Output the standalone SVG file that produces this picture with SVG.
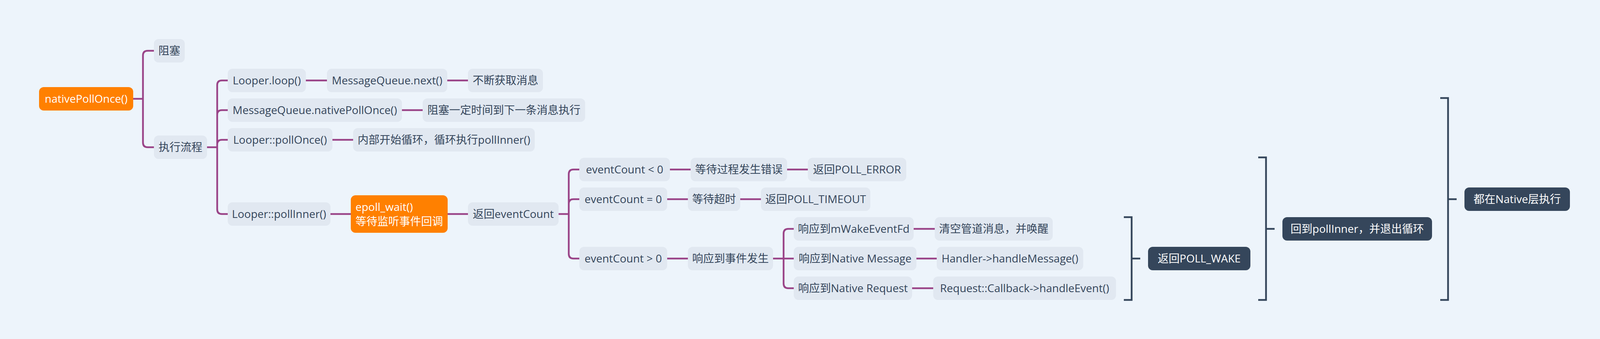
<svg xmlns="http://www.w3.org/2000/svg" width="4120" height="868" viewBox="0 0 4120 868">
<style>
.bg{fill:#edf4fb}
.n rect{fill:#e1e8f1}
.n text{fill:#34455a}
.o rect{fill:#ff8000}
.o text{fill:#ffffff}
.d rect{fill:#35465b}
.d text{fill:#ffffff}
text{font-family:"Open Sans","Noto Sans CJK SC",sans-serif;font-size:28px;text-anchor:middle}
.l{fill:none;stroke:#9a4488;stroke-width:4.5;stroke-linecap:butt}
.b{fill:none;stroke:#35465b;stroke-width:4.5}
</style>
<rect class="bg" x="0" y="0" width="4120" height="868"/>
<g id="connectors">
<path class="l" d="M341,253 L366,253 M366,253 L366,142 Q366,130 378,130 L394,130 M366,253 L366,365 Q366,377 378,377 L394,377"/>
<path class="l" d="M530,377 L556,377 M556,377 L556,218 Q556,206 568,206 L583,206 M556,377 L556,294 Q556,282 568,282 L583,282 M556,377 L556,370 Q556,358 568,358 L583,358 M556,377 L556,536 Q556,548 568,548 L583,548"/>
<path class="l" d="M783,206 L837,206 M1145,206 L1198,206 M1029,282 L1082,282 M851,358 L904,358 M846,548 L898,548 M1146,548 L1198,548"/>
<path class="l" d="M1430,548 L1456,548 M1456,548 L1456,446 Q1456,434 1468,434 L1483,434 M1456,548 L1456,522 Q1456,510 1468,510 L1483,510 M1456,548 L1456,650 Q1456,662 1468,662 L1483,662"/>
<path class="l" d="M1715,434 L1768,434 M2015,434 L2068,434 M1708,510 L1761,510 M1895,510 L1948,510 M1708,662 L1761,662"/>
<path class="l" d="M1979,662 L2032,662 M2006,662 L2006,598 Q2006,586 2018,586 L2032,586 M2006,662 L2006,726 Q2006,738 2018,738 L2032,738"/>
<path class="l" d="M2339,586 L2393,586 M2346,662 L2398,662 M2335,738 L2389,738"/>
<path class="b" d="M2877,556 L2897,556 L2897,768 L2877,768 M2897,662 L2919,662"/>
<path class="b" d="M3221,403 L3241,403 L3241,768 L3221,768 M3241,586 L3263,586"/>
<path class="b" d="M3687,251 L3707,251 L3707,768 L3687,768 M3707,510 L3729,510"/>
</g>
<g id="n1" class="o"><rect x="100" y="223" width="241" height="60" rx="12"/><text x="220.5" y="263">nativePollOnce()</text></g>
<g id="n2" class="n"><rect x="394" y="100" width="79" height="60" rx="12"/><text x="433.5" y="140">阻塞</text></g>
<g id="n3" class="n"><rect x="394" y="347" width="136" height="60" rx="12"/><text x="462" y="387">执行流程</text></g>
<g id="n4" class="n"><rect x="583" y="176" width="200" height="60" rx="12"/><text x="683" y="216">Looper.loop()</text></g>
<g id="n5" class="n"><rect x="837" y="176" width="308" height="60" rx="12"/><text x="991" y="216">MessageQueue.next()</text></g>
<g id="n6" class="n"><rect x="1198" y="176" width="192" height="60" rx="12"/><text x="1294" y="216">不断获取消息</text></g>
<g id="n7" class="n"><rect x="583" y="252" width="446" height="60" rx="12"/><text x="806" y="292">MessageQueue.nativePollOnce()</text></g>
<g id="n8" class="n"><rect x="1082" y="252" width="416" height="60" rx="12"/><text x="1290" y="292">阻塞一定时间到下一条消息执行</text></g>
<g id="n9" class="n"><rect x="583" y="328" width="268" height="60" rx="12"/><text x="717" y="368">Looper::pollOnce()</text></g>
<g id="n10" class="n"><rect x="904" y="328" width="465" height="60" rx="12"/><text x="1136.5" y="368">内部开始循环，循环执行pollInner()</text></g>
<g id="n11" class="n"><rect x="583" y="518" width="263" height="60" rx="12"/><text x="714.5" y="558">Looper::pollInner()</text></g>
<g id="n12" class="o"><rect x="898" y="500" width="248" height="96" rx="12"/><text x="910" y="540" style="text-anchor:start">epoll_wait()</text><text x="910" y="577" style="text-anchor:start">等待监听事件回调</text></g>
<g id="n13" class="n"><rect x="1198" y="518" width="232" height="60" rx="12"/><text x="1314" y="558">返回eventCount</text></g>
<g id="n14" class="n"><rect x="1483" y="404" width="232" height="60" rx="12"/><text x="1599" y="444">eventCount &lt; 0</text></g>
<g id="n15" class="n"><rect x="1768" y="404" width="247" height="60" rx="12"/><text x="1891.5" y="444">等待过程发生错误</text></g>
<g id="n16" class="n"><rect x="2068" y="404" width="252" height="60" rx="12"/><text x="2194" y="444">返回POLL_ERROR</text></g>
<g id="n17" class="n"><rect x="1483" y="480" width="225" height="60" rx="12"/><text x="1595.5" y="520">eventCount = 0</text></g>
<g id="n18" class="n"><rect x="1761" y="480" width="134" height="60" rx="12"/><text x="1828" y="520">等待超时</text></g>
<g id="n19" class="n"><rect x="1948" y="480" width="280" height="60" rx="12"/><text x="2088" y="520">返回POLL_TIMEOUT</text></g>
<g id="n20" class="n"><rect x="1483" y="632" width="225" height="60" rx="12"/><text x="1595.5" y="672">eventCount &gt; 0</text></g>
<g id="n21" class="n"><rect x="1761" y="632" width="218" height="60" rx="12"/><text x="1870" y="672">响应到事件发生</text></g>
<g id="n22" class="n"><rect x="2032" y="556" width="307" height="60" rx="12"/><text x="2185.5" y="596">响应到mWakeEventFd</text></g>
<g id="n23" class="n"><rect x="2393" y="556" width="302" height="60" rx="12"/><text x="2544" y="596">清空管道消息，并唤醒</text></g>
<g id="n24" class="n"><rect x="2032" y="632" width="314" height="60" rx="12"/><text x="2189" y="672">响应到Native Message</text></g>
<g id="n25" class="n"><rect x="2398" y="632" width="375" height="60" rx="12"/><text x="2585.5" y="672">Handler-&gt;handleMessage()</text></g>
<g id="n26" class="n"><rect x="2032" y="708" width="303" height="60" rx="12"/><text x="2183.5" y="748">响应到Native Request</text></g>
<g id="n27" class="n"><rect x="2389" y="708" width="468" height="60" rx="12"/><text x="2623" y="748">Request::Callback-&gt;handleEvent()</text></g>
<g id="n28" class="d"><rect x="2939" y="632" width="262" height="60" rx="12"/><text x="3070" y="672">返回POLL_WAKE</text></g>
<g id="n29" class="d"><rect x="3283" y="556" width="383" height="60" rx="12"/><text x="3474.5" y="596">回到pollInner，并退出循环</text></g>
<g id="n30" class="d"><rect x="3749" y="480" width="270" height="60" rx="12"/><text x="3884" y="520">都在Native层执行</text></g>
</svg>
